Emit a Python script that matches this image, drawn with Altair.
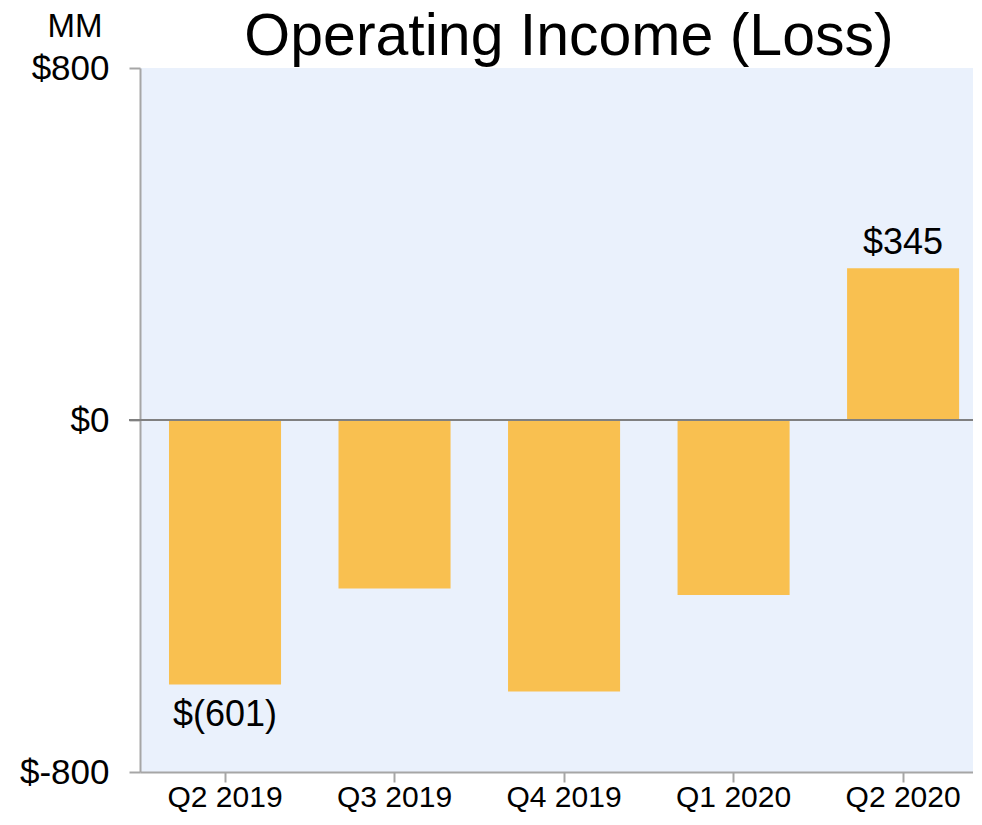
import altair as alt
import pandas as pd

quarters = ["Q2 2019", "Q3 2019", "Q4 2019", "Q1 2020", "Q2 2020"]
values = [-601, -383, -617, -398, 345]
labels = ["$(601)", "", "", "", "$345"]
chart_title = "Operating Income (Loss)"
unit_label = "MM"

df = pd.DataFrame({"quarter": quarters, "value": values, "label": labels})

FONT = "Liberation Sans"
BAR = "#F9C050"
BG = "#EAF1FC"

x_enc = alt.X(
    "quarter:N",
    sort=quarters,
    scale=alt.Scale(paddingInner=0.339, paddingOuter=0.15, align=0.57),
    axis=alt.Axis(
        title=None, labelAngle=0, labelFontSize=30, labelFont=FONT, labelColor="#000000",
        tickSize=10, tickColor="#A6A6A6", tickWidth=2, domainColor="#A6A6A6", domainWidth=2,
        labelPadding=0,
    ),
)
y_scale = alt.Scale(domain=[-800, 800], nice=False)

bars = alt.Chart(df).mark_bar(color=BAR).encode(
    x=x_enc,
    y=alt.Y(
        "value:Q",
        scale=y_scale,
        axis=alt.Axis(
            values=[-800, 0, 800], labelExpr="'$' + datum.value", grid=False,
            labelFontSize=35, labelFont=FONT, labelColor="#000000", labelPadding=20,
            tickSize=11, tickColor="#A6A6A6", tickWidth=2, domainColor="#A6A6A6", domainWidth=2,
            title=unit_label, titleAngle=0, titleFont=FONT, titleFontSize=33, titleFontWeight="normal",
            titleAlign="right", titleBaseline="alphabetic", titleX=-38, titleY=-32, titleColor="#000000",
        ),
    ),
)

zero = alt.Chart(df).mark_rule(color="#808080", strokeWidth=2).encode(
    y=alt.datum(0, scale=y_scale),
    x=alt.value(-11),
    x2=alt.value(841),
)

neg_labels = alt.Chart(df).transform_filter(
    "datum.value < 0 && datum.label != ''"
).mark_text(font=FONT, fontSize=36, baseline="top", dy=14, color="#000000").encode(
    x=alt.X("quarter:N", sort=quarters), y="value:Q", text="label:N"
)
pos_labels = alt.Chart(df).transform_filter(
    "datum.value > 0 && datum.label != ''"
).mark_text(font=FONT, fontSize=36, baseline="alphabetic", dy=-14, color="#000000").encode(
    x=alt.X("quarter:N", sort=quarters), y="value:Q", text="label:N"
)

title_df = pd.DataFrame({"t": [chart_title]})
title_mark = alt.Chart(title_df).mark_text(
    font=FONT, fontSize=59, baseline="alphabetic", align="center", color="#000000"
).encode(
    x=alt.value(429), y=alt.value(-13), text="t:N"
)

chart = alt.layer(bars, zero, neg_labels, pos_labels, title_mark).properties(
    width=841,
    height=704,
    padding={"left": 11, "top": 0, "right": -9, "bottom": 0},
).configure_view(fill=BG, stroke=None)

chart.save("out.html", embed_options={"renderer": "svg", "actions": False})
